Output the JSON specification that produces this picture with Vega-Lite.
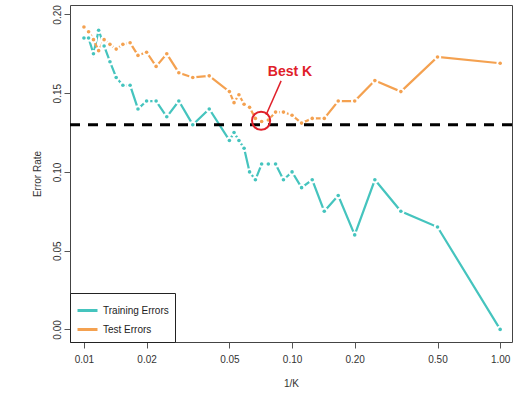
{
  "$schema": "https://vega.github.io/schema/vega-lite/v6.json",
  "width": 442,
  "height": 337,
  "autosize": {"type": "none"},
  "padding": {"left": 70, "top": 5, "right": 4, "bottom": 56},
  "background": "white",
  "config": {
    "font": "Liberation Sans",
    "view": {"stroke": "#444", "strokeWidth": 1},
    "axis": {"grid": false, "domain": false, "tickColor": "#555", "tickSize": 6, "labelColor": "#333", "titleColor": "#333", "labelFontSize": 10, "titleFontSize": 10, "titleFontWeight": "normal"}
  },
  "datasets": {
    "errors": [
      {"x": 0.01, "err": 0.185, "series": "Training Errors"},
      {"x": 0.010526, "err": 0.185, "series": "Training Errors"},
      {"x": 0.011111, "err": 0.175, "series": "Training Errors"},
      {"x": 0.011765, "err": 0.19, "series": "Training Errors"},
      {"x": 0.0125, "err": 0.18, "series": "Training Errors"},
      {"x": 0.013333, "err": 0.17, "series": "Training Errors"},
      {"x": 0.014286, "err": 0.16, "series": "Training Errors"},
      {"x": 0.015385, "err": 0.155, "series": "Training Errors"},
      {"x": 0.016667, "err": 0.155, "series": "Training Errors"},
      {"x": 0.018182, "err": 0.14, "series": "Training Errors"},
      {"x": 0.02, "err": 0.145, "series": "Training Errors"},
      {"x": 0.022222, "err": 0.145, "series": "Training Errors"},
      {"x": 0.025, "err": 0.135, "series": "Training Errors"},
      {"x": 0.028571, "err": 0.145, "series": "Training Errors"},
      {"x": 0.033333, "err": 0.13, "series": "Training Errors"},
      {"x": 0.04, "err": 0.14, "series": "Training Errors"},
      {"x": 0.05, "err": 0.12, "series": "Training Errors"},
      {"x": 0.052632, "err": 0.125, "series": "Training Errors"},
      {"x": 0.055556, "err": 0.12, "series": "Training Errors"},
      {"x": 0.058824, "err": 0.115, "series": "Training Errors"},
      {"x": 0.0625, "err": 0.1, "series": "Training Errors"},
      {"x": 0.066667, "err": 0.095, "series": "Training Errors"},
      {"x": 0.071429, "err": 0.105, "series": "Training Errors"},
      {"x": 0.076923, "err": 0.105, "series": "Training Errors"},
      {"x": 0.083333, "err": 0.105, "series": "Training Errors"},
      {"x": 0.090909, "err": 0.095, "series": "Training Errors"},
      {"x": 0.1, "err": 0.1, "series": "Training Errors"},
      {"x": 0.111111, "err": 0.09, "series": "Training Errors"},
      {"x": 0.125, "err": 0.095, "series": "Training Errors"},
      {"x": 0.142857, "err": 0.075, "series": "Training Errors"},
      {"x": 0.166667, "err": 0.085, "series": "Training Errors"},
      {"x": 0.2, "err": 0.06, "series": "Training Errors"},
      {"x": 0.25, "err": 0.095, "series": "Training Errors"},
      {"x": 0.333333, "err": 0.075, "series": "Training Errors"},
      {"x": 0.5, "err": 0.065, "series": "Training Errors"},
      {"x": 1, "err": 0.0, "series": "Training Errors"},
      {"x": 0.01, "err": 0.192, "series": "Test Errors"},
      {"x": 0.010526, "err": 0.189, "series": "Test Errors"},
      {"x": 0.011111, "err": 0.184, "series": "Test Errors"},
      {"x": 0.011765, "err": 0.177, "series": "Test Errors"},
      {"x": 0.0125, "err": 0.184, "series": "Test Errors"},
      {"x": 0.013333, "err": 0.181, "series": "Test Errors"},
      {"x": 0.014286, "err": 0.178, "series": "Test Errors"},
      {"x": 0.015385, "err": 0.181, "series": "Test Errors"},
      {"x": 0.016667, "err": 0.182, "series": "Test Errors"},
      {"x": 0.018182, "err": 0.174, "series": "Test Errors"},
      {"x": 0.02, "err": 0.176, "series": "Test Errors"},
      {"x": 0.022222, "err": 0.167, "series": "Test Errors"},
      {"x": 0.025, "err": 0.175, "series": "Test Errors"},
      {"x": 0.028571, "err": 0.163, "series": "Test Errors"},
      {"x": 0.033333, "err": 0.16, "series": "Test Errors"},
      {"x": 0.04, "err": 0.161, "series": "Test Errors"},
      {"x": 0.05, "err": 0.151, "series": "Test Errors"},
      {"x": 0.052632, "err": 0.144, "series": "Test Errors"},
      {"x": 0.055556, "err": 0.149, "series": "Test Errors"},
      {"x": 0.058824, "err": 0.143, "series": "Test Errors"},
      {"x": 0.0625, "err": 0.141, "series": "Test Errors"},
      {"x": 0.066667, "err": 0.134, "series": "Test Errors"},
      {"x": 0.071429, "err": 0.132, "series": "Test Errors"},
      {"x": 0.076923, "err": 0.133, "series": "Test Errors"},
      {"x": 0.083333, "err": 0.138, "series": "Test Errors"},
      {"x": 0.090909, "err": 0.138, "series": "Test Errors"},
      {"x": 0.1, "err": 0.136, "series": "Test Errors"},
      {"x": 0.111111, "err": 0.131, "series": "Test Errors"},
      {"x": 0.125, "err": 0.134, "series": "Test Errors"},
      {"x": 0.142857, "err": 0.134, "series": "Test Errors"},
      {"x": 0.166667, "err": 0.145, "series": "Test Errors"},
      {"x": 0.2, "err": 0.145, "series": "Test Errors"},
      {"x": 0.25, "err": 0.158, "series": "Test Errors"},
      {"x": 0.333333, "err": 0.151, "series": "Test Errors"},
      {"x": 0.5, "err": 0.173, "series": "Test Errors"},
      {"x": 1, "err": 0.169, "series": "Test Errors"}
    ],
    "baseline": [{"err": 0.13}],
    "best": [{"x": 0.0710, "err": 0.1325}],
    "label": [{"x": 0.0978, "err": 0.1634, "text": "Best K"}],
    "arrow": [{"x": 0.0886, "err": 0.1578, "x2": 0.0751, "err2": 0.1363}]
  },
  "layer": [
    {
      "data": {"name": "errors"},
      "mark": {"type": "line", "strokeWidth": 2.2},
      "encoding": {
        "x": {"field": "x", "type": "quantitative", "scale": {"type": "log", "domain": [0.00857, 1.14], "nice": false}, "axis": {"values": [0.01, 0.02, 0.05, 0.1, 0.2, 0.5, 1], "format": ".2f", "title": "1/K", "labelPadding": 6, "titlePadding": 14}},
        "y": {"field": "err", "type": "quantitative", "scale": {"domain": [-0.008, 0.206], "nice": false, "zero": false}, "axis": {"values": [0, 0.05, 0.1, 0.15, 0.2], "format": ".2f", "title": "Error Rate", "labelAngle": -90, "labelAlign": "center", "labelBaseline": "bottom", "labelPadding": 2, "titlePadding": 10}},
        "color": {"field": "series", "type": "nominal", "scale": {"domain": ["Training Errors", "Test Errors"], "range": ["#45C4BE", "#F4A150"]}, "legend": {"title": null, "orient": "bottom-left", "offset": 0, "symbolType": "stroke", "symbolStrokeWidth": 3, "symbolSize": 400, "labelFontSize": 10, "labelColor": "#222", "strokeColor": "#222", "fillColor": "white", "padding": 6, "rowPadding": 1, "cornerRadius": 0}},
        "detail": {"field": "series"}
      }
    },
    {
      "data": {"name": "errors"},
      "mark": {"type": "point", "shape": "circle", "filled": true, "size": 55, "color": "white", "opacity": 1},
      "encoding": {
        "x": {"field": "x", "type": "quantitative"},
        "y": {"field": "err", "type": "quantitative"}
      }
    },
    {
      "data": {"name": "errors"},
      "mark": {"type": "point", "shape": "circle", "filled": true, "size": 13, "opacity": 1},
      "encoding": {
        "x": {"field": "x", "type": "quantitative"},
        "y": {"field": "err", "type": "quantitative"},
        "color": {"field": "series", "type": "nominal", "scale": {"domain": ["Training Errors", "Test Errors"], "range": ["#45C4BE", "#F4A150"]}, "legend": null}
      }
    },
    {
      "data": {"name": "baseline"},
      "mark": {"type": "rule", "color": "black", "strokeWidth": 3, "strokeDash": [10, 8]},
      "encoding": {"y": {"field": "err", "type": "quantitative"}}
    },
    {
      "data": {"name": "best"},
      "mark": {"type": "point", "shape": "circle", "size": 330, "filled": false, "color": "#E0202A", "strokeWidth": 2, "opacity": 1},
      "encoding": {"x": {"field": "x", "type": "quantitative"}, "y": {"field": "err", "type": "quantitative"}}
    },
    {
      "data": {"name": "arrow"},
      "mark": {"type": "rule", "color": "#E0202A", "strokeWidth": 1.5},
      "encoding": {"x": {"field": "x", "type": "quantitative"}, "y": {"field": "err", "type": "quantitative"}, "x2": {"field": "x2"}, "y2": {"field": "err2"}}
    },
    {
      "data": {"name": "label"},
      "mark": {"type": "text", "color": "#E0202A", "fontSize": 14, "fontWeight": "bold", "align": "center", "baseline": "middle"},
      "encoding": {"x": {"field": "x", "type": "quantitative"}, "y": {"field": "err", "type": "quantitative"}, "text": {"field": "text"}}
    }
  ]
}
